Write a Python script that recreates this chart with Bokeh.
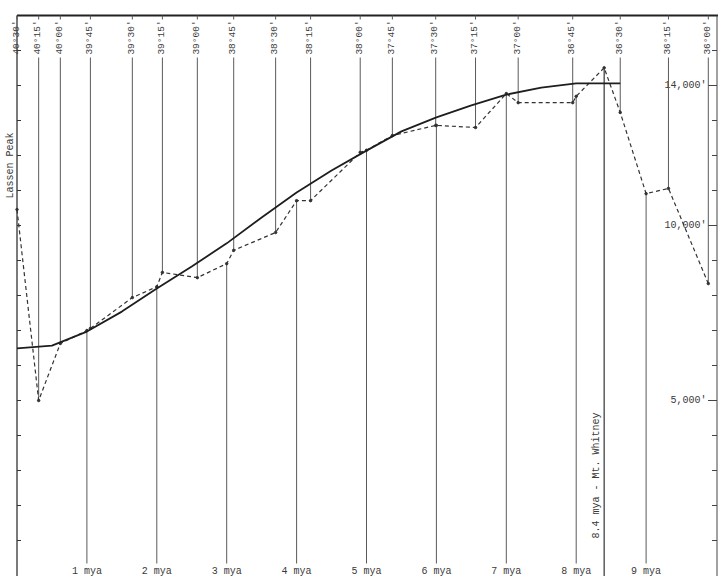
import math
from bokeh.plotting import figure
from bokeh.models import Range1d, ColumnDataSource
from bokeh.core.properties import value
from bokeh.embed import file_html
from bokeh.resources import INLINE

# ---------------- data ----------------
# latitude marks along the crest: position on the age scale (mya) and crest elevation (ft)
lat_labels = ["40°30'", "40°15'", "40°00'", "39°45'", "39°30'", "39°15'", "39°00'",
              "38°45'", "38°30'", "38°15'", "38°00'", "37°45'", "37°30'", "37°15'",
              "37°00'", "36°45'", "36°30'", "36°15'", "36°00'"]
lat_pos = [0.0, 0.31, 0.62, 1.05, 1.65, 2.08, 2.58, 3.10, 3.70, 4.20, 4.91, 5.37,
           5.99, 6.56, 7.17, 7.95, 8.63, 9.32, 9.89]
lat_elev = [10457, 5000, 6630, 7060, 7940, 8660, 8510, 9290, 9800, 10710, 12090,
            12570, 12860, 12800, 13510, 13510, 13230, 11060, 8340]

# age marks
mya_pos = [1, 2, 3, 4, 5, 6, 7, 8, 9]
mya_labels = ["1 mya", "2 mya", "3 mya", "4 mya", "5 mya", "6 mya", "7 mya", "8 mya", "9 mya"]
mya_elev = [7000, 8250, 8910, 10710, 12150, 12860, 13770, 13690, 10910]

whitney_pos = 8.4
whitney_elev = 14505
whitney_label = "8.4 mya - Mt. Whitney"
lassen_label = "Lassen Peak"

# smooth trend curve
trend_pos = [0.0, 0.5, 1.0, 1.5, 2.0, 2.5, 3.0, 3.5, 4.0, 4.5, 5.0, 5.5, 6.0, 6.5,
             7.0, 7.5, 8.0, 8.63]
trend_elev = [6490, 6570, 6970, 7540, 8200, 8830, 9490, 10230, 10940, 11570, 12140,
              12690, 13090, 13430, 13740, 13940, 14060, 14060]

elev_ticks = list(range(1000, 16000, 1000))
elev_label_vals = [14000, 10000, 5000]
elev_label_texts = ["14,000'", "10,000'", "5,000'"]

# ---------------- layout constants ----------------
W, H = 718, 576
PXM = 69.9            # px per mya
PXF = 35.0 / 1000.0   # px per foot
ORIGIN_X = 16.5       # px of 0 mya
TOP_Y = 15.0          # px of the top line
TOP = 16000           # ft at the top line
X0, X1 = -ORIGIN_X / PXM, (W - ORIGIN_X) / PXM
Y1 = TOP + TOP_Y / PXF
Y0 = TOP - (H - TOP_Y) / PXF
RIGHT = (716.5 - ORIGIN_X) / PXM


def ex(px):  # horizontal px offset -> mya
    return px / PXM


def ey(px):  # vertical px offset -> ft
    return px / PXF


FONT = value("Liberation Mono")
INK = "#3a3a3a"
LINE = "#5a5a5a"

p = figure(width=W, height=H, x_range=Range1d(X0, X1), y_range=Range1d(Y0, Y1),
           output_backend="svg", toolbar_location=None, x_axis_type=None, y_axis_type=None,
           min_border=0, background_fill_color="white", border_fill_color="white")
p.grid.visible = False
p.outline_line_color = None

# frame lines: top, left axis, right axis
p.line([0, X1], [TOP, TOP], line_color="#222", line_width=1.8)
p.line([0, 0], [Y0, TOP], line_color="#333", line_width=1.3)
p.line([RIGHT, RIGHT], [Y0, TOP], line_color="#444", line_width=1.0)

# elevation ticks on both sides
n = len(elev_ticks)
p.segment(x0=[0] * n, y0=elev_ticks, x1=[ex(4)] * n, y1=elev_ticks,
          line_color="#333", line_width=1)
p.segment(x0=[RIGHT - ex(5)] * n, y0=elev_ticks, x1=[RIGHT] * n,
          y1=elev_ticks, line_color="#444", line_width=1)
m = len(elev_label_vals)
p.segment(x0=[RIGHT - ex(9)] * m, y0=elev_label_vals, x1=[RIGHT] * m,
          y1=elev_label_vals, line_color="#444", line_width=1)
p.text(x=[RIGHT - ex(10.5)] * m, y=elev_label_vals, text=elev_label_texts,
       text_font=FONT, text_font_size="10px", text_color=INK, text_align="right",
       text_baseline="middle")

# latitude lines from the top down to the crest profile
line_top = TOP - ey(42)
k = len(lat_pos) - 1
lat_src = ColumnDataSource(dict(x=lat_pos[1:], y=lat_elev[1:], top=[line_top] * k))
p.segment(x0="x", y0="top", x1="x", y1="y", source=lat_src, line_color=LINE, line_width=1)
p.segment(x0=lat_pos, y0=[TOP] * len(lat_pos), x1=lat_pos, y1=[TOP - ey(4)] * len(lat_pos),
          line_color=LINE, line_width=1)
p.text(x=[v - ex(1) for v in lat_pos], y=[TOP - ey(22)] * len(lat_pos), text=lat_labels,
       angle=math.pi / 2, text_font=FONT, text_font_size="9.5px", text_color=INK,
       text_align="center", text_baseline="middle")

# age lines from the bottom up
mya_bottom = TOP - ey(548)
p.segment(x0=mya_pos, y0=[mya_bottom] * len(mya_pos), x1=mya_pos, y1=mya_elev,
          line_color=LINE, line_width=1)
p.text(x=mya_pos, y=[TOP - ey(556)] * len(mya_pos), text=mya_labels, text_font=FONT,
       text_font_size="10px", text_color=INK, text_align="center", text_baseline="middle")

# Mt. Whitney line and label
p.segment(x0=[whitney_pos], y0=[Y0], x1=[whitney_pos], y1=[whitney_elev],
          line_color="#333", line_width=1.2)
p.text(x=[whitney_pos - ex(8)], y=[TOP - ey(460)], text=[whitney_label], angle=math.pi / 2,
       text_font=FONT, text_font_size="10px", text_color=INK, text_align="center",
       text_baseline="middle")

# Lassen Peak label
p.text(x=[-ex(6.5)], y=[TOP - ey(150)], text=[lassen_label], angle=math.pi / 2,
       text_font=FONT, text_font_size="10px", text_color=INK, text_align="center",
       text_baseline="middle")

# crest profile (dashed): all marked points ordered along the range
pts = sorted(list(zip(lat_pos, lat_elev)) + list(zip(mya_pos, mya_elev)) +
             [(whitney_pos, whitney_elev)])
p.line([a for a, b in pts], [b for a, b in pts], line_color="#333", line_width=1.2,
       line_dash="4 3")
p.scatter([a for a, b in pts], [b for a, b in pts], size=2.5, color="#333")

# smooth trend curve
p.line(trend_pos, trend_elev, line_color="#1e1e1e", line_width=1.8)

open("out.html", "w").write(file_html(p, INLINE))
